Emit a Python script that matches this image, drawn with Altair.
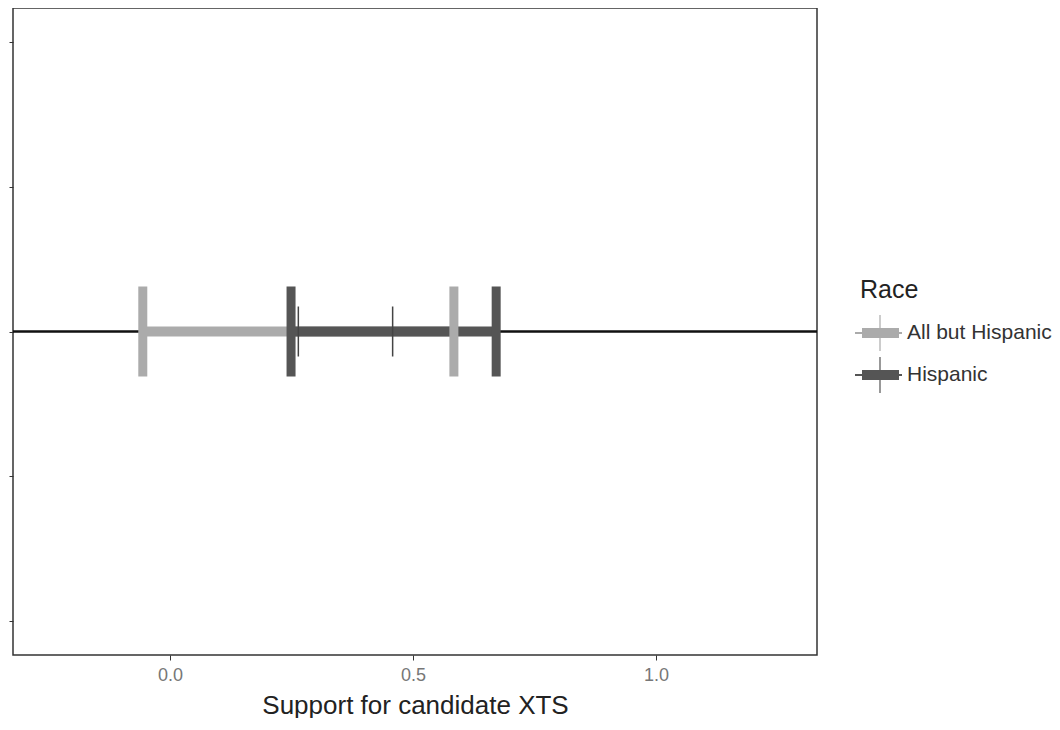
import altair as alt
import pandas as pd

races = ["All but Hispanic", "Hispanic"]
lower = [-0.056, 0.249]
upper = [0.584, 0.671]
means = [0.264, 0.458]
x_ticks = [0.0, 0.5, 1.0]
y_ticks = [-1.0, -0.5, 0.0, 0.5, 1.0]

df = pd.DataFrame({"Race": races, "lower": lower, "upper": upper, "mean": means})

xscale = alt.Scale(domain=[-0.323, 1.331], nice=False, zero=False)
yscale = alt.Scale(domain=[-1.1, 1.1], nice=False, zero=False)
color_scale = alt.Scale(domain=races, range=["#ababab", "#555555"])

x_axis = alt.Axis(values=x_ticks, format=".1f", grid=False, domain=False, tickSize=5,
                  tickColor="#333", labelColor="#777", labelFontSize=18, labelPadding=6,
                  title="Support for candidate XTS", titleFontSize=26,
                  titleFontWeight="normal", titleColor="#222", titlePadding=8)
y_axis = alt.Axis(values=y_ticks, labels=False, grid=False, domain=False, tickSize=4,
                  tickColor="#333", title=None)

sym_path = ("M-1.25,-0.05H1.1V0.05H-1.25Z "
            "M-0.9,-0.25H0.95V0.25H-0.9Z "
            "M-0.03,-0.9H0.03V0.9H-0.03Z")

legend = alt.Legend(title="Race", orient="none", legendX=847, legendY=270,
                    titleFontSize=25, titleFontWeight="normal", titleColor="#222",
                    titlePadding=10, labelFontSize=21, labelColor="#333",
                    symbolType=sym_path, symbolSize=1600, symbolStrokeWidth=0,
                    symbolOpacity=1, rowPadding=4, labelOffset=7, direction="vertical")

base = alt.Chart(df)

zero_rule = base.mark_rule(color="#111", strokeWidth=2).encode(
    y=alt.YDatum(0, type="quantitative", scale=yscale, axis=y_axis)
)

bars = base.mark_bar(size=10, orient="horizontal", opacity=1).encode(
    x=alt.X("lower:Q", scale=xscale, axis=x_axis),
    x2="upper:Q",
    y=alt.YDatum(0, type="quantitative"),
    color=alt.Color("Race:N", scale=color_scale, legend=legend),
)

caps = base.transform_fold(["lower", "upper"], as_=["end", "value"]).mark_tick(
    orient="vertical", size=90, thickness=9, opacity=1
).encode(
    x=alt.X("value:Q"),
    y=alt.YDatum(0, type="quantitative"),
    color=alt.Color("Race:N", scale=color_scale, legend=None),
)

mids = base.mark_tick(orient="vertical", size=50, thickness=1.5, color="#444",
                      opacity=1).encode(
    x=alt.X("mean:Q"),
    y=alt.YDatum(0, type="quantitative"),
)

chart = alt.layer(zero_rule, bars, caps, mids).properties(
    width=804, height=647,
    padding={"left": 0, "top": 0, "right": 0, "bottom": 0},
).configure(font="Liberation Sans").configure_view(stroke="#333", strokeWidth=1.5)

chart.save("out.html", embed_options={"renderer": "svg", "actions": False})
